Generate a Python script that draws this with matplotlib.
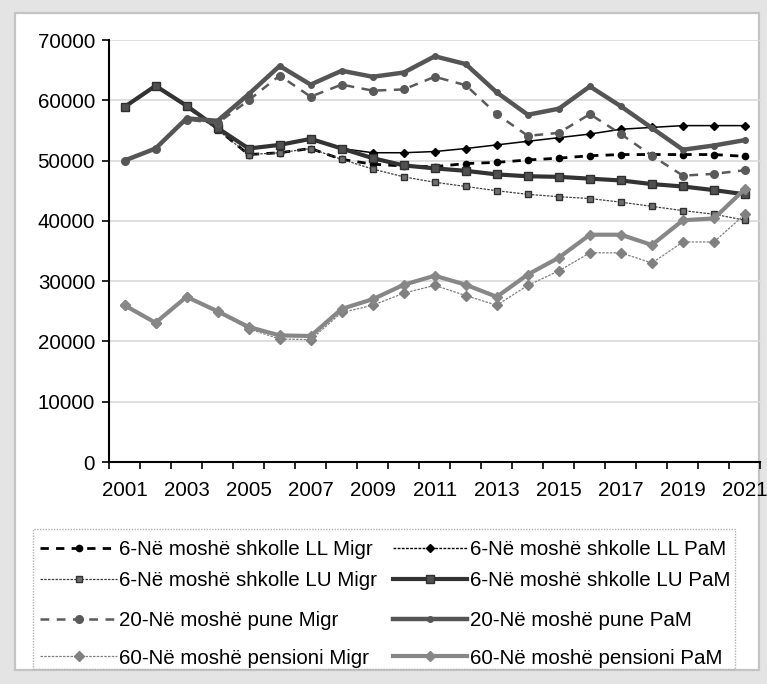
import matplotlib
matplotlib.use("Agg")
import matplotlib.pyplot as plt
from matplotlib.lines import Line2D
from matplotlib.patches import Rectangle
import numpy as np

plt.rcParams['font.family'] = ['Liberation Sans', 'DejaVu Sans']

years = list(range(2001, 2022))
tick_years = list(range(2001, 2022, 2))
y_ticks = [0, 10000, 20000, 30000, 40000, 50000, 60000, 70000]

ll_migr = [58900, 62400, 59000, 55200, 51000, 51300, 52000, 50200, 49400, 49100, 49000,
           49500, 49700, 50100, 50400, 50800, 51000, 51000, 51000, 51000, 50700]
ll_pam = [58900, 62400, 59000, 55400, 52000, 52600, 53600, 52000, 51300, 51300, 51500,
          52000, 52600, 53200, 53800, 54400, 55200, 55500, 55800, 55800, 55800]
lu_migr = [58900, 62400, 59000, 55100, 51000, 51300, 52000, 50200, 48600, 47300, 46400,
           45700, 45000, 44400, 44000, 43700, 43100, 42400, 41700, 41100, 40100]
lu_pam = [58900, 62400, 59100, 55400, 52000, 52600, 53600, 52000, 50400, 49200, 48700,
          48300, 47700, 47400, 47300, 47000, 46700, 46100, 45700, 45100, 44400]
w20_migr = [50000, 52000, 56800, 56200, 60000, 64100, 60600, 62600, 61600, 61800, 63900,
            62500, 57700, 54100, 54600, 57700, 54400, 50800, 47500, 47800, 48400]
w20_pam = [50000, 52000, 57000, 56600, 61000, 65700, 62600, 64900, 63900, 64600, 67300,
           66000, 61300, 57600, 58600, 62300, 59000, 55400, 51800, 52500, 53400]
p60_migr = [26000, 23100, 27400, 24800, 22100, 20400, 20300, 24800, 26000, 28000, 29300,
            27600, 26000, 29300, 31700, 34700, 34700, 33000, 36500, 36500, 41100]
p60_pam = [26000, 23100, 27400, 25000, 22400, 21000, 20900, 25400, 27000, 29400, 30900,
           29400, 27400, 31100, 33900, 37700, 37700, 36000, 40100, 40400, 45300]

labels = ["6-Në moshë shkolle LL Migr", "6-Në moshë shkolle LL PaM",
          "6-Në moshë shkolle LU Migr", "6-Në moshë shkolle LU PaM",
          "20-Në moshë pune Migr", "20-Në moshë pune PaM",
          "60-Në moshë pensioni Migr", "60-Në moshë pensioni PaM"]
series = [ll_migr, ll_pam, lu_migr, lu_pam, w20_migr, w20_pam, p60_migr, p60_pam]

styles = [
    dict(color='black', lw=2.0, dashes=(3.0, 2.6), marker='o', ms=4.5, mfc='black', mec='black'),
    dict(color='black', lw=1.1, ls='-', marker='D', ms=4.5, mfc='black', mec='black'),
    dict(color='#404040', lw=0.9, dashes=(2.0, 1.0), marker='s', ms=5, mfc='#707070', mec='#303030'),
    dict(color='#333333', lw=3.0, ls='-', marker='s', ms=6, mfc='#505050', mec='#303030'),
    dict(color='#5a5a5a', lw=1.8, dashes=(3.5, 3.0), marker='o', ms=5.5, mfc='#5a5a5a', mec='#5a5a5a'),
    dict(color='#555555', lw=3.2, ls='-', marker='o', ms=4, mfc='#555555', mec='#555555'),
    dict(color='#808080', lw=0.9, dashes=(2.0, 1.0), marker='D', ms=5, mfc='#808080', mec='#808080'),
    dict(color='#878787', lw=3.0, ls='-', marker='D', ms=5.5, mfc='#878787', mec='#878787'),
]

W, H = 767, 684
fig = plt.figure(figsize=(W / 100, H / 100), dpi=100)
fig.patch.set_facecolor('#e4e4e4')

def fx(px):
    return px / W

def fy(py):
    return 1 - py / H

FS = 14.8

# white panel
fig.add_artist(Rectangle((fx(15), fy(670)), fx(759) - fx(15), fy(13) - fy(670),
                         transform=fig.transFigure, facecolor='white',
                         edgecolor='#c4c4c4', lw=1.6, zorder=0))

ax = fig.add_axes([fx(109), fy(462), fx(760.5) - fx(109), fy(40) - fy(462)])
ax.set_facecolor('none')
ax.set_zorder(2)

for vals, st in zip(series, styles):
    ax.plot(years, vals, clip_on=False, **st)

ax.set_xlim(2000.5, 2021.5)
ax.set_ylim(0, 70000)
ax.set_yticks(y_ticks)
ax.set_yticklabels([str(v) for v in y_ticks])
ax.yaxis.grid(True, color='#d9d9d9', lw=1.2)
ax.set_axisbelow(True)

ax.set_xticks(np.arange(2000.5, 2022, 1.0))
ax.set_xticklabels([])
ax.set_xticks(tick_years, minor=True)
ax.set_xticklabels([str(y) for y in tick_years], minor=True)
ax.tick_params(axis='x', which='major', direction='out', length=5, width=1.2, color='black')
ax.tick_params(axis='x', which='minor', length=0, pad=14, labelsize=FS)
ax.tick_params(axis='y', direction='out', length=5, width=1.2, pad=5, labelsize=FS)

for s in ['top', 'right']:
    ax.spines[s].set_visible(False)
for s in ['left', 'bottom']:
    ax.spines[s].set_linewidth(1.5)
    ax.spines[s].set_color('black')

# legend (drawn manually in figure coordinates)
fig.add_artist(Rectangle((fx(33), fy(669)), fx(735) - fx(33), fy(529) - fy(669),
                         transform=fig.transFigure, facecolor='none',
                         edgecolor='#b0b0b0', lw=1.0, ls=(0, (1, 1)), zorder=3))
row_centers = [547.5, 579, 619, 656]
col_x = [(40, 117, 119), (393, 467, 470)]
for i, (lab, st) in enumerate(zip(labels, styles)):
    r, c = i // 2, i % 2
    x0, x1, xt = col_x[c]
    yc = row_centers[r]
    line_st = {k: v for k, v in st.items() if k not in ('marker', 'ms', 'mfc', 'mec')}
    if i == 1:
        line_st = dict(color='black', lw=1.0, dashes=(2.0, 1.0))
    fig.add_artist(Line2D([fx(x0), fx(x1)], [fy(yc), fy(yc)], transform=fig.transFigure,
                          zorder=4, **line_st))
    fig.add_artist(Line2D([fx((x0 + x1) / 2)], [fy(yc)], transform=fig.transFigure,
                          ls='none', marker=st['marker'], ms=st['ms'], mfc=st['mfc'],
                          mec=st['mec'], zorder=5))
    fig.text(fx(xt), fy(yc + 7.5), lab, ha='left', va='baseline', fontsize=FS, zorder=5)

fig.savefig('out.png', dpi=100, facecolor=fig.get_facecolor())
